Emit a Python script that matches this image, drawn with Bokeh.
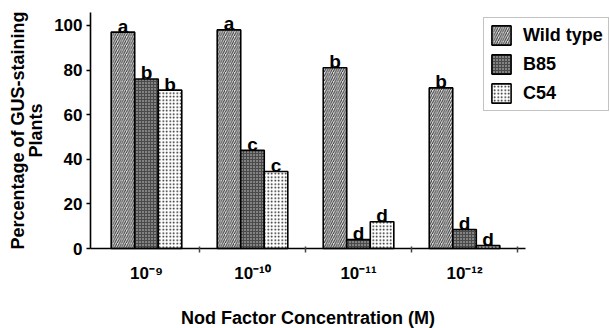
from bokeh.plotting import figure
from bokeh.models import (FixedTicker, Legend, LegendItem, ColumnDataSource,
                          Range1d)
from bokeh.transform import dodge
from bokeh.core.properties import value
from bokeh.embed import file_html
from bokeh.resources import INLINE

# ---- data ----
concentrations = ["10⁻⁹", "10⁻¹⁰", "10⁻¹¹", "10⁻¹²"]
positions = [1, 2, 3, 4]
wild_type = [97, 98, 81, 72]
b85 = [76, 44, 4, 8.5]
c54 = [71, 34.5, 12, 1.3]
wild_type_letters = ["a", "a", "b", "b"]
b85_letters = ["b", "c", "d", "d"]
c54_letters = ["b", "c", "d", "d"]
y_ticks = [0, 20, 40, 60, 80, 100]

src = ColumnDataSource(dict(
    x=positions, wt=wild_type, b85=b85, c54=c54,
    wt_l=wild_type_letters, b85_l=b85_letters, c54_l=c54_letters,
))

FONT = "Liberation Sans"
W = 0.222
X0, X1 = 0.472, 4.575     # extent of the x axis
Y0, Y1 = 0, 105.8         # extent of the y axis

p = figure(width=610, height=328, output_backend="svg", toolbar_location=None,
           title=None,
           x_range=Range1d(-0.3769, 5.3767), y_range=Range1d(-35.86, 111.18),
           min_border=0)
p.outline_line_color = None
p.grid.visible = False
p.background_fill_color = "white"

r_wt = p.vbar(x=dodge("x", -W, range=p.x_range), top="wt", width=W, source=src,
              fill_color="#e0e0e0", line_color="black", line_width=1.6,
              hatch_pattern="right_diagonal_line", hatch_color="#333333",
              hatch_scale=4.5, hatch_weight=1)
r_b85 = p.vbar(x=dodge("x", 0, range=p.x_range), top="b85", width=W, source=src,
               fill_color="#4a4a4a", line_color="black", line_width=1.6,
               hatch_pattern="dot", hatch_color="#d8d8d8",
               hatch_scale=3, hatch_weight=1)
r_c54 = p.vbar(x=dodge("x", W, range=p.x_range), top="c54", width=W, source=src,
               fill_color="white", line_color="black", line_width=1.6,
               hatch_pattern="dot", hatch_color="#111111",
               hatch_scale=3.5, hatch_weight=1.5)

for off, top, lab in [(-W, "wt", "wt_l"), (0, "b85", "b85_l"), (W, "c54", "c54_l")]:
    p.text(x=dodge("x", off, range=p.x_range), y=top, text=lab, source=src,
           text_font=value(FONT), text_font_style="bold", text_font_size="19px",
           text_align="center", text_baseline="alphabetic", y_offset=-6,
           text_color="black")

# axes
p.xaxis.fixed_location = Y0
p.xaxis.bounds = (X0, X1)
p.xaxis.ticker = FixedTicker(ticks=positions, minor_ticks=[1.5, 2.5, 3.5, 4.5])
p.xaxis.major_label_overrides = {k: v for k, v in zip(positions, concentrations)}
p.xaxis.major_tick_line_color = None
p.xaxis.minor_tick_line_color = "#444444"
p.xaxis.minor_tick_line_width = 1.5
p.xaxis.minor_tick_out = 4
p.xaxis.minor_tick_in = 2
p.xaxis.major_label_standoff = 9
p.xaxis.axis_label = "Nod Factor Concentration (M)"
p.xaxis.axis_label_standoff = 22

p.yaxis.fixed_location = X0
p.yaxis.bounds = (Y0, Y1)
p.yaxis.ticker = FixedTicker(ticks=y_ticks)
p.yaxis.minor_tick_line_color = None
p.yaxis.major_tick_out = 4
p.yaxis.major_tick_in = 0
p.yaxis.major_label_standoff = 4
p.yaxis.axis_label = "Percentage of GUS-staining\nPlants"
p.yaxis.axis_label_standoff = 5
p.yaxis.axis_label_text_line_height = 0.9

for ax in (p.xaxis, p.yaxis):
    ax.axis_line_color = "black"
    ax.axis_line_width = 1.6
    ax.major_tick_line_width = 1.5
    ax.major_label_text_font = FONT
    ax.major_label_text_font_style = "bold"
    ax.major_label_text_font_size = "17px"
    ax.major_label_text_color = "black"
    ax.axis_label_text_font = FONT
    ax.axis_label_text_font_style = "bold"
    ax.axis_label_text_font_size = "18px"
    ax.axis_label_text_color = "black"

legend = Legend(items=[LegendItem(label="Wild type", renderers=[r_wt]),
                       LegendItem(label="B85", renderers=[r_b85]),
                       LegendItem(label="C54", renderers=[r_c54])],
                location=(483, 217), glyph_width=24, glyph_height=24,
                label_standoff=10, spacing=5, padding=5, margin=0,
                border_line_color="#888888", border_line_width=1,
                label_text_font=FONT, label_text_font_style="bold",
                label_text_font_size="18px", label_text_color="black",
                background_fill_color="white", background_fill_alpha=1)
p.add_layout(legend)

open("out.html", "w").write(file_html(p, INLINE))
